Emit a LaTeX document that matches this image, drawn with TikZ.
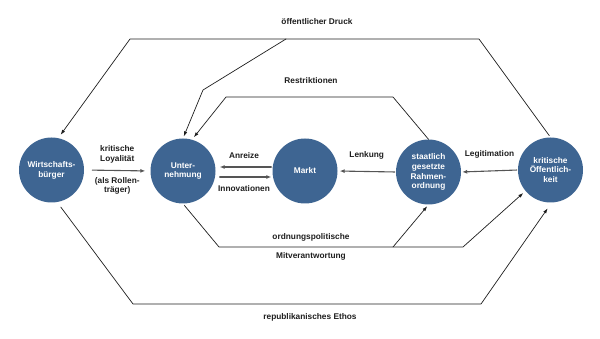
\documentclass[tikz,border=0pt]{standalone}
\usepackage{fontspec}
\setmainfont{Liberation Sans}
\usepackage{tikz}
\usetikzlibrary{
  arrows.meta,
  positioning
}
\definecolor{EthBlue}{HTML}{3E6592}
\definecolor{EthInk}{HTML}{1E1E1E}
\definecolor{EthFlow}{HTML}{555555}
\tikzset{
  >=Latex,
  every picture/.style = {line join=round, line cap=round},
  every node/.style = {font=\bfseries\fontsize{8.3}{9.8}\selectfont, text=EthInk},
  stage/.style = {
    circle,
    fill=EthBlue,
    text=white,
    minimum size=65pt,
    inner sep=0pt,
    align=center
  },
  flow/.style = {-{Latex[length=5pt,width=4pt]}, draw=EthFlow, line width=1.1pt},
  tie/.style = {draw=EthInk, line width=0.7pt},
  tie arrow/.style = {tie, -{Latex[length=5pt,width=3.5pt]}},
  note/.style = {align=center, inner sep=1pt},
}

\begin{document}
\begin{tikzpicture}[x=1pt,y=-1pt]
  \useasboundingbox (0,0) rectangle (600,339);

  \node[stage] (wirt) at (51.5,170) {Wirtschafts-\\bürger};
  \node[stage] (unter) at (183,171) {Unter-\\nehmung};
  \node[stage] (markt) at (305,171) {Markt};
  \node[stage] (staat) at (428.5,172) {staatlich\\gesetzte\\Rahmen-\\ordnung};
  \node[stage] (oeff) at (550.5,170) {kritische\\Öffentlich-\\keit};

  \draw[flow, shorten <=8pt, shorten >=5pt] (wirt.east) --
    node[note, above=6pt] {kritische\\Loyalität}
    node[note, below=5pt] {(als Rollen-\\träger)} (unter.west);
  \draw[flow, shorten <=1pt, shorten >=4pt] ([yshift=4pt]markt.west) --
    node[note, above=7pt] {Anreize} ([yshift=4pt]unter.east);
  \draw[flow, shorten <=4pt, shorten >=1pt] ([yshift=-6pt]unter.east) --
    node[note, below=7pt] {Innovationen} ([yshift=-6pt]markt.west);
  \draw[flow, shorten <=1pt, shorten >=2pt] (staat.west) --
    node[note, above=11pt] {Lenkung} (markt.east);
  \draw[flow, shorten <=1pt, shorten >=1pt] (oeff.west) --
    node[note, above=11pt] {Legitimation} (staat.east);

  \coordinate (druckL) at (130,39);
  \coordinate (druckR) at (479,39);
  \coordinate (druckJ) at (286,39);
  \coordinate (druckK) at (203,90);
  \coordinate (restL) at (226,97);
  \coordinate (restR) at (393,97);
  \coordinate (mitL) at (219,247);
  \coordinate (mitJ) at (393,247);
  \coordinate (mitR) at (463,247);
  \coordinate (ethosL) at (133,304);
  \coordinate (ethosR) at (481,304);

  \draw[tie arrow, shorten <=2pt, shorten >=4pt] (oeff.north) -- (druckR) -- (druckL) -- (wirt.78);
  \draw[tie arrow, shorten >=2pt] (druckJ) -- (druckK) -- (unter.north);
  \draw[tie arrow, shorten >=3pt] (staat.north) -- (restR) -- (restL) -- (unter.74);
  \draw[tie arrow, shorten <=2pt, shorten >=3pt] (unter.south) -- (mitL) -- (mitR) -- (oeff.220);
  \draw[tie arrow, shorten >=2pt] (mitJ) -- (staat.south);
  \draw[tie arrow, shorten <=6pt, shorten >=7pt] (wirt.-80) -- (ethosL) -- (ethosR) -- (oeff.-88);

  \node[note] (druck) at (317,22) {öffentlicher Druck};
  \node[note] (restr) at (311,81) {Restriktionen};
  \node[note] (ordnung) at (311,237) {ordnungspolitische};
  \node[note] (mitver) at (311,256) {Mitverantwortung};
  \node[note] (ethos) at (310,317) {republikanisches Ethos};
\end{tikzpicture}
\end{document}
